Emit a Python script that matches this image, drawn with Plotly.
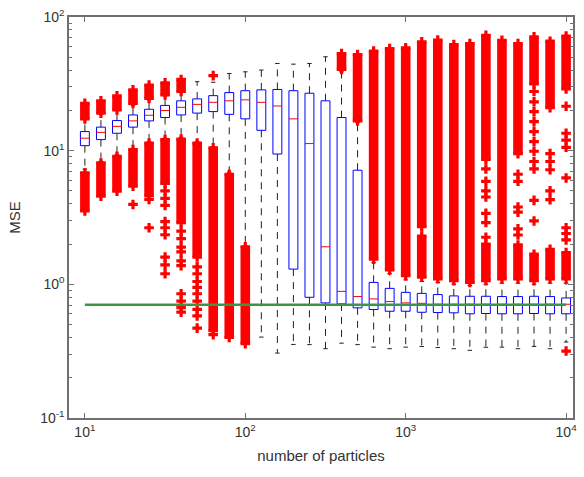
import plotly.graph_objects as go

# ---------------- data ----------------
positions = [10, 12.59, 15.85, 19.95, 25.12, 31.62, 39.81, 50.12, 63.10, 79.43,
             100, 125.9, 158.5, 199.5, 251.2, 316.2, 398.1, 501.2, 631.0, 794.3,
             1000, 1259, 1585, 1995, 2512, 3162, 3981, 5012, 6310, 7943, 10000]

q1 = [10.9, 12.1, 13.5, 15.0, 16.7, 17.7, 18.5, 19.1, 19.6, 18.7,
      17.3, 14.2, 9.44, 1.30, 0.80, 0.726, 0.714, 0.667, 0.648, 0.629,
      0.629, 0.618, 0.615, 0.612, 0.602, 0.605, 0.602, 0.602, 0.605, 0.602, 0.602]
median = [12.4, 13.7, 15.2, 16.7, 18.4, 19.95, 21.1, 22.2, 23.0, 23.6,
          24.0, 23.0, 21.6, 17.3, 11.3, 1.91, 0.886, 0.81, 0.778, 0.743,
          0.726, 0.721, 0.71, 0.71, 0.71, 0.71, 0.71, 0.71, 0.71, 0.71, 0.71]
q3 = [13.9, 15.0, 16.8, 18.5, 20.4, 21.8, 23.6, 24.4, 25.8, 27.2,
      28.1, 28.5, 28.7, 28.1, 26.9, 23.6, 17.7, 7.14, 1.034, 0.933,
      0.871, 0.856, 0.838, 0.819, 0.814, 0.814, 0.81, 0.81, 0.814, 0.81, 0.791]
whisker_low = [7.26, 8.33, 9.39, 10.4, 11.7, 12.4, 12.6, 11.7, 10.7, 6.9,
               1.94, 0.403, 0.306, 0.355, 0.354, 0.33, 0.363, 0.354, 0.339, 0.33,
               0.339, 0.343, 0.337, 0.33, 0.321, 0.338, 0.339, 0.33, 0.343, 0.33, 0.37]
whisker_high = [17.1, 18.6, 19.9, 21.8, 24.0, 25.6, 27.2, 32.8, 32.5, 37.8,
                38.9, 40.1, 44.9, 44.4, 44.9, 50.4, 38.9, 16.2, 1.45, 1.2,
                1.08, 1.05, 1.03, 1.0, 0.98, 1.0, 1.02, 1.02, 1.0, 1.02, 1.02]

# dense runs of outliers: (position, lowest value, highest value)
outlier_runs = [
    (10, 17.3, 22.6), (10, 3.54, 6.82),
    (12.59, 19.1, 23.6), (12.59, 4.57, 8.09),
    (15.85, 20.2, 25.7), (15.85, 4.98, 9.07),
    (19.95, 22.6, 28.5), (19.95, 5.43, 10.2),
    (25.12, 24.6, 31.0), (25.12, 4.6, 11.4),
    (31.62, 26.1, 32.2), (31.62, 5.7, 12.1),
    (39.81, 27.7, 34.1), (39.81, 2.9, 12.2),
    (50.12, 1.6, 11.4),
    (63.10, 0.45, 10.5),
    (79.43, 0.40, 6.66),
    (100, 0.36, 1.91),
    (398.1, 40.5, 53.3),
    (501.2, 16.7, 52.4),
    (631.0, 1.545, 55.6),
    (794.3, 1.28, 58.1),
    (1000, 1.16, 58.8),
    (1259, 1.13, 2.3), (1259, 2.7, 65.2),
    (1585, 1.10, 67.1),
    (1995, 1.065, 62.2),
    (2512, 1.034, 63.3),
    (3162, 1.065, 2.0), (3162, 8.6, 73),
    (3981, 1.10, 67),
    (5012, 1.10, 1.97), (5012, 9.5, 63.3),
    (6310, 1.065, 1.68), (6310, 31.6, 71),
    (7943, 1.10, 1.83), (7943, 21, 65.9),
    (10000, 1.10, 1.73), (10000, 29, 72),
]

# isolated outliers: (position, value)
outlier_points = [
    (19.95, 3.96),
    (25.12, 4.32), (25.12, 2.65),
    (31.62, 5.0), (31.62, 4.4), (31.62, 3.9), (31.62, 2.95), (31.62, 2.65),
    (31.62, 2.35), (31.62, 1.6), (31.62, 1.4), (31.62, 1.2),
    (39.81, 2.5), (39.81, 2.2), (39.81, 1.9), (39.81, 1.75), (39.81, 1.5),
    (39.81, 1.38), (39.81, 0.85), (39.81, 0.75), (39.81, 0.67), (39.81, 0.62),
    (50.12, 1.35), (50.12, 1.2), (50.12, 1.05), (50.12, 0.95), (50.12, 0.85),
    (50.12, 0.75), (50.12, 0.65), (50.12, 0.58), (50.12, 0.47),
    (63.10, 36.4), (63.10, 0.42),
    (3162, 7.3), (3162, 5.9), (3162, 5.0), (3162, 4.5), (3162, 3.4),
    (3162, 2.9), (3162, 2.25),
    (5012, 6.66), (5012, 5.9), (5012, 3.79), (5012, 3.47), (5012, 2.6), (5012, 2.34),
    (6310, 27.7), (6310, 23.2), (6310, 19.6), (6310, 16.5), (6310, 13.9),
    (6310, 11.7), (6310, 9.9), (6310, 8.3), (6310, 7.3), (6310, 4.25), (6310, 2.98),
    (7943, 9.5), (7943, 8.3), (7943, 7.2), (7943, 5.0), (7943, 4.3),
    (10000, 21.5), (10000, 13.5), (10000, 12.0), (10000, 10.6), (10000, 6.25),
    (10000, 2.65), (10000, 2.4), (10000, 2.15), (10000, 0.317),
]

reference_mse = 0.702

x_tick_vals = [10, 100, 1000, 10000]
x_tick_text = ["10<sup>1</sup>", "10<sup>2</sup>", "10<sup>3</sup>", "10<sup>4</sup>"]
y_tick_vals = [0.1, 1, 10, 100]
y_tick_text = ["10<sup>-1</sup>", "10<sup>0</sup>", "10<sup>1</sup>", "10<sup>2</sup>"]

# ---------------- style ----------------
BOX_HALF = 10 ** 0.0278   # half box width as a factor on the log axis
CAP_HALF = 10 ** 0.0139
FONT = "Liberation Sans, Arial, sans-serif"
AXIS_COLOR = "#707070"
TEXT_COLOR = "#333333"

wx, wy, cx, cy, bx, by, mx, my = [], [], [], [], [], [], [], []
for p, a, m, b, lo, hi in zip(positions, q1, median, q3, whisker_low, whisker_high):
    wx += [p, p, None, p, p, None]
    wy += [b, hi, None, a, lo, None]
    cx += [p / CAP_HALF, p * CAP_HALF, None, p / CAP_HALF, p * CAP_HALF, None]
    cy += [hi, hi, None, lo, lo, None]
    l, r = p / BOX_HALF, p * BOX_HALF
    bx += [l, r, r, l, l, None]
    by += [a, a, b, b, a, None]
    mx += [l, r, None]
    my += [m, m, None]

rx, ry, ox, oy = [], [], [], []
for p, lo, hi in outlier_runs:
    rx += [p, p, None]
    ry += [lo, hi, None]
    ox += [p, p]
    oy += [lo, hi]
for p, v in outlier_points:
    ox.append(p)
    oy.append(v)

fig = go.Figure()
fig.add_trace(go.Scatter(x=wx, y=wy, mode="lines", hoverinfo="skip",
                         line=dict(color="#222222", width=1, dash="7px,6px")))
fig.add_trace(go.Scatter(x=cx, y=cy, mode="lines", hoverinfo="skip",
                         line=dict(color="#222222", width=1)))
fig.add_trace(go.Scatter(x=bx, y=by, mode="lines", hoverinfo="skip",
                         line=dict(color="#0000ff", width=1)))
fig.add_trace(go.Scatter(x=mx, y=my, mode="lines", hoverinfo="skip",
                         line=dict(color="#ff0000", width=1)))
fig.add_trace(go.Scatter(x=rx, y=ry, mode="lines", hoverinfo="skip",
                         line=dict(color="#ff0000", width=9.6)))
fig.add_trace(go.Scatter(x=ox, y=oy, mode="markers", hoverinfo="skip",
                         marker=dict(symbol="cross", size=8, color="#ff0000",
                                     line=dict(width=0))))
fig.add_trace(go.Scatter(x=[positions[0], positions[-1]],
                         y=[reference_mse, reference_mse], mode="lines",
                         line=dict(color="#3a9645", width=2.5)))

minor_y = [k * 10 ** e for e in (-1, 0, 1) for k in range(2, 10)]

fig.update_layout(
    width=584, height=477,
    margin=dict(l=69, r=7, t=15, b=59),
    paper_bgcolor="white", plot_bgcolor="white",
    showlegend=False,
    font=dict(family=FONT, size=14, color=TEXT_COLOR),
    xaxis=dict(type="log", range=[0.901, 4.043],
               tickmode="array", tickvals=x_tick_vals, ticktext=x_tick_text,
               ticks="inside", ticklen=5, tickcolor=AXIS_COLOR,
               showline=True, linecolor=AXIS_COLOR, linewidth=1.5, mirror="ticks",
               showgrid=False, zeroline=False,
               tickfont=dict(family=FONT, size=14, color=TEXT_COLOR),
               title=dict(text="number of particles", standoff=12,
                          font=dict(family=FONT, size=15, color=TEXT_COLOR))),
    yaxis=dict(type="log", range=[-1, 2],
               tickmode="array", tickvals=y_tick_vals, ticktext=y_tick_text,
               ticks="inside", ticklen=5, tickcolor=AXIS_COLOR,
               minor=dict(tickmode="array", tickvals=minor_y, ticks="inside",
                          ticklen=3, tickcolor=AXIS_COLOR, showgrid=False),
               showline=True, linecolor=AXIS_COLOR, linewidth=1.5, mirror="ticks",
               showgrid=False, zeroline=False,
               tickfont=dict(family=FONT, size=14, color=TEXT_COLOR),
               title=dict(text="MSE", standoff=16,
                          font=dict(family=FONT, size=15, color=TEXT_COLOR))),
)

fig.write_html("out.html")
